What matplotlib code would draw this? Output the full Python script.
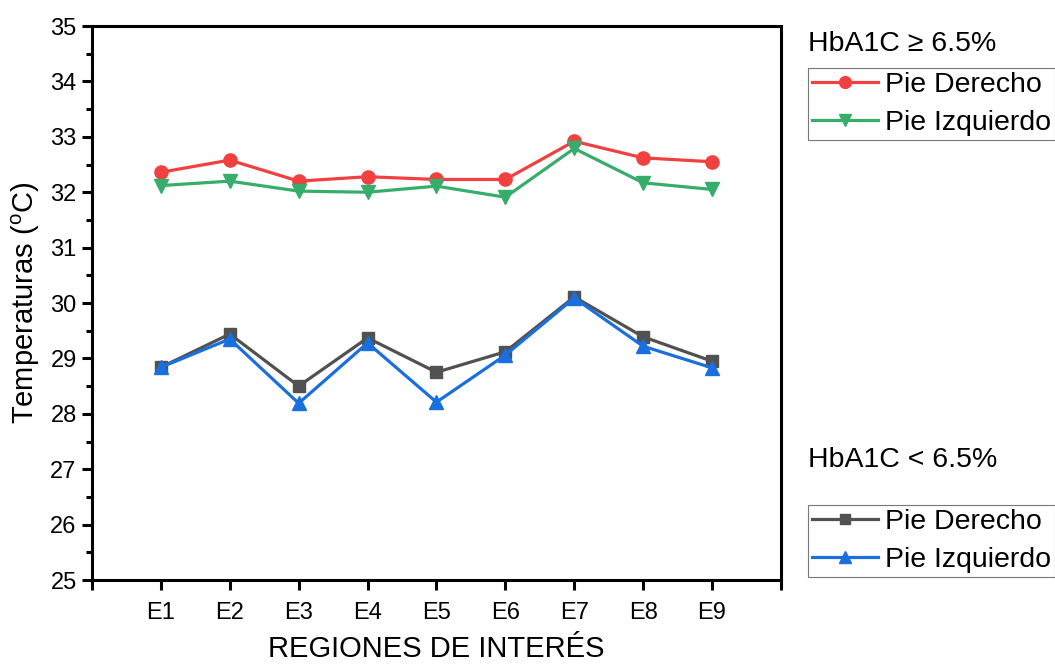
import matplotlib
matplotlib.use("Agg")
import matplotlib.pyplot as plt
from matplotlib.lines import Line2D
from matplotlib.ticker import MultipleLocator, FixedLocator

plt.rcParams['font.family'] = ['Liberation Sans', 'DejaVu Sans']
plt.rcParams['mathtext.fontset'] = 'custom'
plt.rcParams['mathtext.rm'] = 'Liberation Sans'

regions = ["E1", "E2", "E3", "E4", "E5", "E6", "E7", "E8", "E9"]
hi_derecho = [32.36, 32.58, 32.20, 32.28, 32.23, 32.23, 32.92, 32.62, 32.55]
hi_izquierdo = [32.12, 32.20, 32.02, 32.00, 32.11, 31.91, 32.79, 32.17, 32.05]
lo_derecho = [28.84, 29.44, 28.50, 29.37, 28.75, 29.12, 30.11, 29.39, 28.95]
lo_izquierdo = [28.84, 29.35, 28.19, 29.28, 28.21, 29.06, 30.09, 29.22, 28.83]

C_RED = "#F14040"
C_GREEN = "#37AD6B"
C_GRAY = "#515151"
C_BLUE = "#1A6FDF"

fig = plt.figure(figsize=(10.55, 6.64), dpi=100)
ax = fig.add_axes([0.0872, 0.1265, 0.653, 0.8343])

x = list(range(1, len(regions) + 1))
lw = 2.3
ms = 9.5
ax.plot(x, hi_derecho, color=C_RED, lw=lw, marker='o', ms=ms, zorder=3)
ax.plot(x, hi_izquierdo, color=C_GREEN, lw=lw, marker='v', ms=ms + 1, zorder=4)
ax.plot(x, lo_derecho, color=C_GRAY, lw=lw, marker='s', ms=ms - 1, zorder=3)
ax.plot(x, lo_izquierdo, color=C_BLUE, lw=lw, marker='^', ms=ms + 1, zorder=4)

ax.set_xlim(0, 10)
ax.set_ylim(25, 35)
ax.xaxis.set_major_locator(FixedLocator(list(range(0, 11))))
ax.set_xticklabels([""] + regions + [""])
ax.yaxis.set_major_locator(MultipleLocator(1))
ax.yaxis.set_minor_locator(MultipleLocator(0.5))

for s in ax.spines.values():
    s.set_linewidth(2.2)
ax.tick_params(axis='both', which='major', direction='out', length=7, width=2.2, labelsize=17, pad=4)
ax.tick_params(axis='x', which='major', pad=9)
ax.tick_params(axis='y', which='minor', direction='out', length=4, width=2.2)

ax.set_ylabel("Temperaturas ($^{\\mathregular{o}}$C)", fontsize=21, labelpad=6)
ax.set_xlabel("REGIONES DE INTERÉS", fontsize=21, labelpad=8)

fig.text(808 / 1055, 1 - 44 / 664, "HbA1C ≥ 6.5%", fontsize=20.5, va='center', ha='left')
fig.text(808 / 1055, 1 - 460 / 664, "HbA1C < 6.5%", fontsize=20.5, va='center', ha='left')

h1 = [Line2D([], [], color=C_RED, lw=lw, marker='o', ms=ms - 1),
      Line2D([], [], color=C_GREEN, lw=lw, marker='v', ms=ms - 1)]
h2 = [Line2D([], [], color=C_GRAY, lw=lw, marker='s', ms=ms - 2),
      Line2D([], [], color=C_BLUE, lw=lw, marker='^', ms=ms - 1)]
labels = ["Pie Derecho", "Pie Izquierdo"]

legkw = dict(fontsize=20.5, frameon=True, fancybox=False, shadow=False,
             handlelength=2.3, handletextpad=0.25, borderpad=0.15, labelspacing=0.4,
             borderaxespad=0, loc='upper left')
leg1 = fig.legend(h1, labels, bbox_to_anchor=(808 / 1055, 1 - 68 / 664), **legkw)
leg2 = fig.legend(h2, labels, bbox_to_anchor=(808 / 1055, 1 - 505 / 664), **legkw)
for lg in (leg1, leg2):
    lg.get_frame().set_edgecolor("#555555")
    lg.get_frame().set_linewidth(0.8)

fig.savefig("out.png", dpi=100)
